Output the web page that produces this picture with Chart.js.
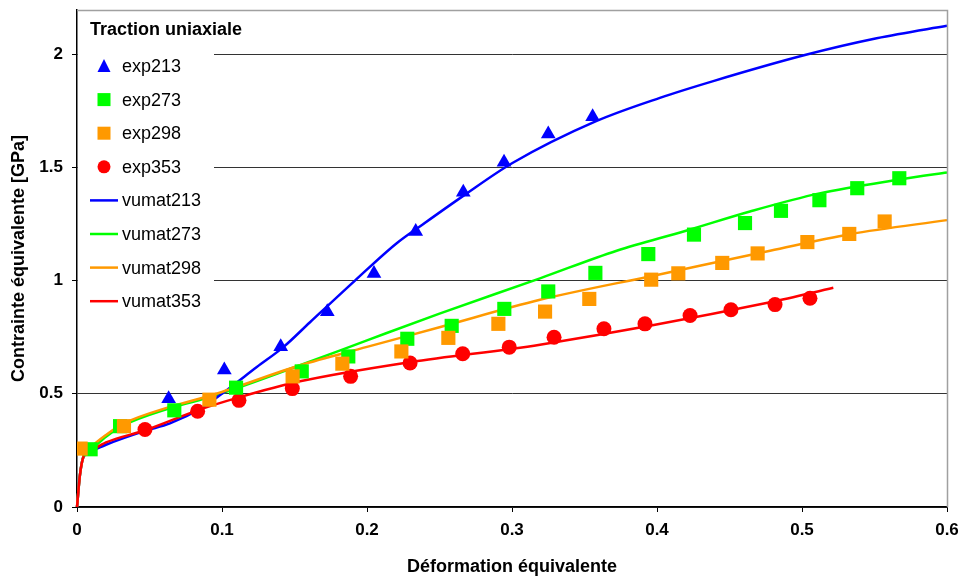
<!DOCTYPE html>
<html>
<head>
<meta charset="utf-8">
<script src="https://cdn.jsdelivr.net/npm/chart.js@4"></script>
<style>
  body { margin: 0; background: #fff; }
  #wrap { width: 960px; height: 579px; }
</style>
</head>
<body>
<div id="wrap"><canvas id="chart"></canvas></div>
<script>
const exp213X = [0.0632, 0.1016, 0.1405, 0.1726, 0.2048, 0.2336, 0.2664, 0.2945, 0.325, 0.3556]
const exp213Y = [0.478, 0.605, 0.708, 0.862, 1.031, 1.217, 1.390, 1.523, 1.647, 1.724]

const exp273X = [0.0094, 0.0297, 0.0671, 0.1097, 0.155, 0.1871, 0.2278, 0.2584, 0.2947, 0.325, 0.3575, 0.394, 0.4255, 0.4607, 0.4855, 0.512, 0.5381, 0.5671]
const exp273Y = [0.255, 0.357, 0.427, 0.527, 0.599, 0.665, 0.743, 0.800, 0.875, 0.952, 1.034, 1.117, 1.203, 1.254, 1.308, 1.355, 1.408, 1.452]

const exp298X = [0.0025, 0.0324, 0.0913, 0.1487, 0.183, 0.2237, 0.2561, 0.2906, 0.3228, 0.3533, 0.396, 0.4147, 0.445, 0.4694, 0.5037, 0.5326, 0.557]
const exp298Y = [0.258, 0.357, 0.474, 0.577, 0.633, 0.687, 0.747, 0.809, 0.863, 0.919, 1.004, 1.032, 1.078, 1.120, 1.170, 1.206, 1.261]

const exp353X = [0.0469, 0.0832, 0.1117, 0.1485, 0.1887, 0.2297, 0.266, 0.2981, 0.329, 0.3634, 0.3917, 0.4228, 0.451, 0.4814, 0.5055]
const exp353Y = [0.342, 0.423, 0.471, 0.523, 0.577, 0.636, 0.677, 0.706, 0.750, 0.787, 0.809, 0.846, 0.871, 0.894, 0.922]

// model curves (vumat)
const vumat213X = [0, 0.002, 0.0045, 0.009, 0.02, 0.0469, 0.0641, 0.0871, 0.103, 0.124, 0.1423, 0.1607, 0.1917, 0.2205, 0.2389, 0.2664, 0.3, 0.3584, 0.402, 0.4388, 0.502, 0.5515, 0.6, 0.6055]
const vumat213Y = [0, 0.14, 0.222, 0.244, 0.275, 0.336, 0.369, 0.442, 0.515, 0.618, 0.706, 0.816, 1.0, 1.165, 1.25, 1.374, 1.518, 1.705, 1.807, 1.881, 1.996, 2.07, 2.125, 2.131]

const vumat273X = [0, 0.002, 0.0045, 0.009, 0.02, 0.032, 0.064, 0.094, 0.1538, 0.2, 0.25, 0.3193, 0.3722, 0.42, 0.4641, 0.512, 0.567, 0.6, 0.6055]
const vumat273Y = [0, 0.14, 0.225, 0.25, 0.31, 0.36, 0.436, 0.49, 0.626, 0.736, 0.854, 1.01, 1.132, 1.22, 1.305, 1.385, 1.446, 1.477, 1.482]

const vumat298X = [0, 0.002, 0.0045, 0.009, 0.02, 0.032, 0.064, 0.094, 0.1538, 0.2, 0.25, 0.3193, 0.4, 0.478, 0.533, 0.6, 0.6055]
const vumat298Y = [0, 0.14, 0.225, 0.26, 0.318, 0.368, 0.442, 0.496, 0.626, 0.707, 0.794, 0.915, 1.025, 1.132, 1.205, 1.267, 1.272]

const vumat353X = [0, 0.002, 0.0045, 0.009, 0.02, 0.0469, 0.0832, 0.1117, 0.1538, 0.2297, 0.3193, 0.478, 0.5216]
const vumat353Y = [0, 0.14, 0.222, 0.245, 0.285, 0.339, 0.427, 0.484, 0.555, 0.64, 0.717, 0.904, 0.968]

const xTicks = [0, 0.1, 0.2, 0.3, 0.4, 0.5, 0.6]
const yTicks = [0, 0.5, 1, 1.5, 2]

const BLUE = '#0000ff'
const GREEN = '#00ff00'
const ORANGE = '#ff9900'
const RED = '#ff0000'

const FONT = "'Liberation Sans', Arial, sans-serif"

function pts(xs, ys) {
  return xs.map((x, i) => ({ x: x, y: ys[i] }))
}

function expSet(label, xs, ys, color, style, radius, order) {
  return {
    label, data: pts(xs, ys), showLine: false,
    pointStyle: style, pointRadius: radius, pointHoverRadius: radius,
    backgroundColor: color, borderColor: color, borderWidth: 0, order
  }
}

function lineSet(label, xs, ys, color, order) {
  return {
    label, data: pts(xs, ys), showLine: true, pointRadius: 0,
    borderColor: color, backgroundColor: color, borderWidth: 2.5,
    cubicInterpolationMode: 'monotone', fill: false, order,
    clip: { left: 5, top: 5, right: 9, bottom: 5 }
  }
}

// no extra room for edge tick labels, so the plot area sits where it should
function noPad(s) {
  s.paddingLeft = 0
  s.paddingRight = 0
  s.paddingTop = 0
  s.paddingBottom = 0
}

// white legend box inside the plot, drawn over the grid
const insideLegend = {
  id: 'insideLegend',
  beforeDatasetsDraw(chart) {
    const ctx = chart.ctx
    const a = chart.chartArea
    ctx.save()
    ctx.fillStyle = '#fff'
    ctx.fillRect(a.left + 1, a.top + 1, 136, 308)

    ctx.fillStyle = '#000'
    ctx.textBaseline = 'middle'
    ctx.font = 'bold 18px ' + FONT
    ctx.fillText('Traction uniaxiale', 90, 30)

    ctx.font = '18px ' + FONT
    chart.data.datasets.forEach((ds, i) => {
      const y = 66 + i * 33.6
      const c = ds.borderColor
      ctx.fillStyle = c
      ctx.strokeStyle = c
      if (ds.showLine) {
        ctx.lineWidth = 2.5
        ctx.beginPath()
        ctx.moveTo(90, y)
        ctx.lineTo(118, y)
        ctx.stroke()
      } else if (ds.pointStyle === 'triangle') {
        ctx.beginPath()
        ctx.moveTo(104, y - 7)
        ctx.lineTo(110.5, y + 6)
        ctx.lineTo(97.5, y + 6)
        ctx.closePath()
        ctx.fill()
      } else if (ds.pointStyle === 'rect') {
        ctx.fillRect(97.5, y - 6.5, 13, 13)
      } else {
        ctx.beginPath()
        ctx.arc(104, y, 6.5, 0, Math.PI * 2)
        ctx.fill()
      }
      ctx.fillStyle = '#000'
      ctx.fillText(ds.label, 122, y + 1)
    })
    ctx.restore()
  },
  afterDraw(chart) {
    // light frame on top and right of the plot area
    const ctx = chart.ctx
    const a = chart.chartArea
    ctx.save()
    ctx.strokeStyle = '#a0a0a0'
    ctx.lineWidth = 1.5
    ctx.beginPath()
    ctx.moveTo(a.left, a.top + 0.5)
    ctx.lineTo(a.right + 0.5, a.top + 0.5)
    ctx.lineTo(a.right + 0.5, a.bottom)
    ctx.stroke()
    ctx.restore()
  }
}

new Chart(document.getElementById('chart'), {
  type: 'scatter',
  data: {
    datasets: [
      expSet('exp213', exp213X, exp213Y, BLUE, 'triangle', 8.5, 1),
      expSet('exp273', exp273X, exp273Y, GREEN, 'rect', 10, 3),
      expSet('exp298', exp298X, exp298Y, ORANGE, 'rect', 10, 2),
      expSet('exp353', exp353X, exp353Y, RED, 'circle', 7.5, 4),
      lineSet('vumat213', vumat213X, vumat213Y, BLUE, 7),
      lineSet('vumat273', vumat273X, vumat273Y, GREEN, 8),
      lineSet('vumat298', vumat298X, vumat298Y, ORANGE, 6),
      lineSet('vumat353', vumat353X, vumat353Y, RED, 5),
    ]
  },
  options: {
    responsive: true,
    maintainAspectRatio: false,
    animation: false,
    layout: { padding: { left: 0, right: 13, top: 9, bottom: 0 } },
    plugins: {
      legend: { display: false },
      tooltip: { enabled: false }
    },
    scales: {
      x: {
        type: 'linear',
        min: 0,
        max: 0.6,
        afterBuildTicks: s => { s.ticks = xTicks.map(v => ({ value: v })) },
        afterFit: s => { s.height = 72; noPad(s) },
        ticks: {
          color: '#000',
          padding: 8,
          font: { family: FONT, size: 17, weight: 'bold' },
          callback: v => String(+v.toFixed(1))
        },
        grid: { drawOnChartArea: false, tickLength: 5, color: '#000' },
        border: { color: '#000', width: 1.5 },
        title: {
          display: true,
          text: 'Déformation équivalente',
          color: '#000',
          font: { family: FONT, size: 18, weight: 'bold' },
          padding: { top: 0, bottom: 1 }
        }
      },
      y: {
        type: 'linear',
        min: 0,
        max: 2.195,
        afterBuildTicks: s => { s.ticks = yTicks.map(v => ({ value: v })) },
        afterFit: s => { s.width = 77; noPad(s) },
        ticks: {
          color: '#000',
          padding: 9,
          font: { family: FONT, size: 17, weight: 'bold' },
          callback: v => String(v)
        },
        grid: { color: '#333', lineWidth: 1, tickLength: 5, tickColor: '#000' },
        border: { color: '#000', width: 1.5 },
        title: {
          display: true,
          text: 'Contrainte équivalente [GPa]',
          color: '#000',
          font: { family: FONT, size: 18, weight: 'bold' },
          padding: { top: 8, bottom: 0 }
        }
      }
    }
  },
  plugins: [insideLegend]
})
</script>
</body>
</html>
